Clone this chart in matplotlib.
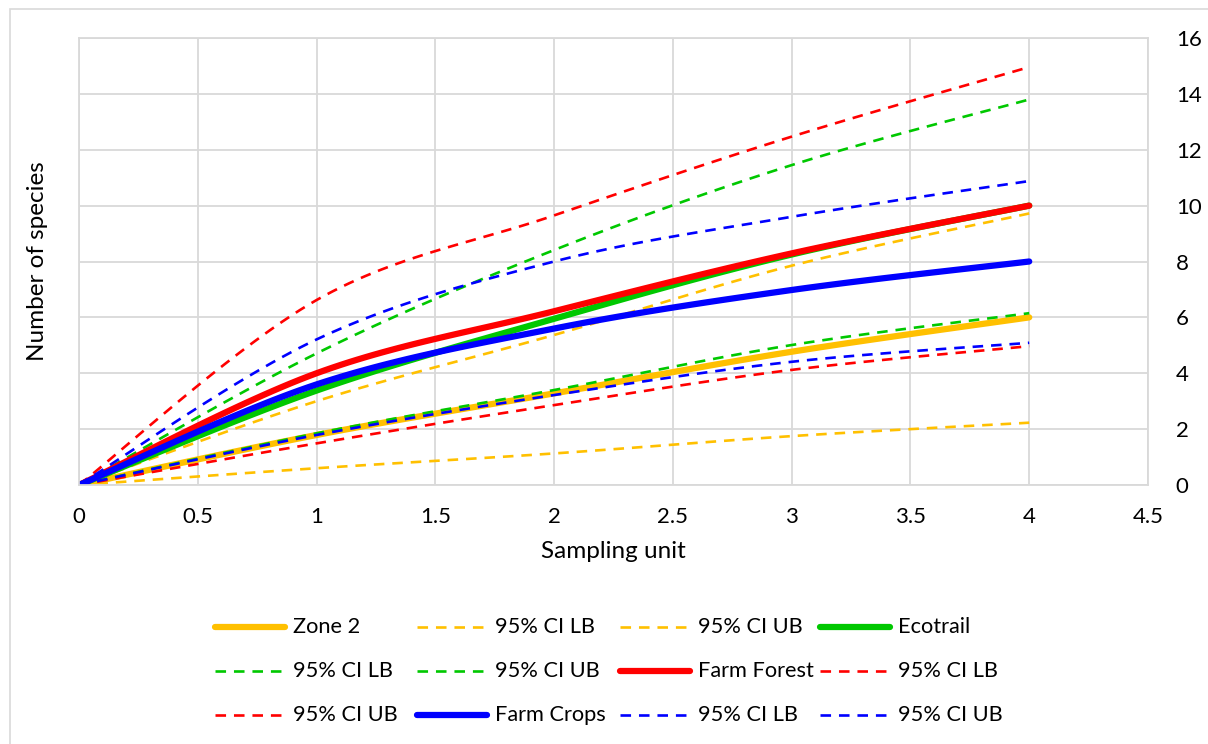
"""
Species accumulation curves with 95% confidence bounds
"""
import matplotlib
matplotlib.use('Agg')
import matplotlib.pyplot as plt
from matplotlib.lines import Line2D
from matplotlib.patches import Rectangle
import numpy as np

# sampling units
units = [0, 1, 2, 3, 4]

# estimated number of species per site, with lower/upper bounds
zone2 = [0, 1.79, 3.28, 4.77, 6.0]
zone2_lb = [0, 0.6, 1.13, 1.75, 2.23]
zone2_ub = [0, 3.0, 5.37, 7.85, 9.72]
ecotrail = [0, 3.38, 5.95, 8.25, 10.0]
ecotrail_lb = [0, 1.85, 3.4, 5.01, 6.15]
ecotrail_ub = [0, 4.71, 8.41, 11.45, 13.8]
farm_forest = [0, 4.0, 6.22, 8.29, 10.0]
farm_forest_lb = [0, 1.49, 2.86, 4.12, 4.97]
farm_forest_ub = [0, 6.62, 9.65, 12.47, 14.96]
farm_crops = [0, 3.6, 5.6, 6.98, 8.0]
farm_crops_lb = [0, 1.79, 3.22, 4.41, 5.09]
farm_crops_ub = [0, 5.21, 8.0, 9.6, 10.88]

labels = ['Zone 2', '95% CI LB', '95% CI UB', 'Ecotrail', '95% CI LB', '95% CI UB',
          'Farm Forest', '95% CI LB', '95% CI UB', 'Farm Crops', '95% CI LB', '95% CI UB']
x_ticks = [0, 0.5, 1, 1.5, 2, 2.5, 3, 3.5, 4, 4.5]
y_ticks = [0, 2, 4, 6, 8, 10, 12, 14, 16]

GRID = '#d9d9d9'
YELLOW = '#ffc000'
GREEN = '#00c800'
RED = '#ff0000'
BLUE = '#0000ff'


def smooth(xs, ys, steps=30):
    """Excel-style smoothed line: cubic bezier through the points (Catmull-Rom)"""
    xs = np.asarray(xs, float)
    ys = np.asarray(ys, float)
    n = len(xs)
    out_x, out_y = [], []
    t = np.linspace(0, 1, steps)
    for i in range(n - 1):
        p0 = np.array([xs[max(i - 1, 0)], ys[max(i - 1, 0)]])
        p1 = np.array([xs[i], ys[i]])
        p2 = np.array([xs[i + 1], ys[i + 1]])
        p3 = np.array([xs[min(i + 2, n - 1)], ys[min(i + 2, n - 1)]])
        c1 = p1 + (p2 - p0) / 6
        c2 = p2 - (p3 - p1) / 6
        for tt in t:
            pt = ((1 - tt) ** 3) * p1 + 3 * ((1 - tt) ** 2) * tt * c1 \
                 + 3 * (1 - tt) * tt ** 2 * c2 + tt ** 3 * p2
            out_x.append(pt[0])
            out_y.append(pt[1])
    return out_x, out_y


def main():
    plt.rcParams['font.family'] = ['Lato', 'DejaVu Sans']
    fig = plt.figure(figsize=(12.08, 7.44), dpi=100)
    ax = fig.add_axes([79 / 1208, 1 - 485 / 744, (1148 - 79) / 1208, (485 - 38) / 744])

    # chart area border
    fig.patches.append(Rectangle((9.5 / 1208, -0.1), 1.2, 1.1 - 9.5 / 744,
                                 transform=fig.transFigure, fill=False,
                                 edgecolor=GRID, linewidth=1.2))

    series = [
        (zone2, YELLOW, True), (zone2_lb, YELLOW, False), (zone2_ub, YELLOW, False),
        (ecotrail, GREEN, True), (ecotrail_lb, GREEN, False), (ecotrail_ub, GREEN, False),
        (farm_forest, RED, True), (farm_forest_lb, RED, False), (farm_forest_ub, RED, False),
        (farm_crops, BLUE, True), (farm_crops_lb, BLUE, False), (farm_crops_ub, BLUE, False),
    ]

    handles = []
    for values, color, solid in series:
        sx, sy = smooth(units, values)
        if solid:
            ax.plot(sx, sy, color=color, linewidth=4.5, solid_capstyle='round')
            handles.append(dict(color=color, linewidth=4.5, solid_capstyle='round'))
        else:
            ax.plot(sx, sy, color=color, linewidth=1.9, dashes=(4, 3))
            handles.append(dict(color=color, linewidth=1.9, dashes=(4, 3)))

    ax.set_xlim(0, 4.5)
    ax.set_ylim(0, 16)
    ax.set_xticks(x_ticks)
    ax.set_xticklabels([f'{v:g}' for v in x_ticks])
    ax.set_yticks(y_ticks)
    ax.yaxis.tick_right()
    ax.tick_params(length=0, labelsize=16, colors='black')
    ax.tick_params(axis='x', pad=16)
    ax.tick_params(axis='y', pad=20)
    ax.grid(True, color=GRID, linewidth=1.3)
    ax.set_axisbelow(True)
    for spine in ax.spines.values():
        spine.set_color(GRID)
        spine.set_linewidth(1.3)

    ax.set_xlabel('Sampling unit', fontsize=17.5, labelpad=10)
    ax.set_ylabel('Number of species', fontsize=17.5, labelpad=22)

    # legend, 3 rows of 4 entries, drawn in figure pixels
    col_x = [215, 417, 620, 820]
    row_y = [627, 671, 715]
    for i, label in enumerate(labels):
        x0 = col_x[i % 4]
        y0 = row_y[i // 4]
        yf = 1 - y0 / 744
        fig.lines.append(Line2D([x0 / 1208, (x0 + 70) / 1208], [yf, yf],
                                transform=fig.transFigure, **handles[i]))
        fig.text((x0 + 78) / 1208, yf, label, fontsize=15.7, va='center', ha='left')

    fig.savefig('out.png', dpi=100)


if __name__ == '__main__':
    main()
